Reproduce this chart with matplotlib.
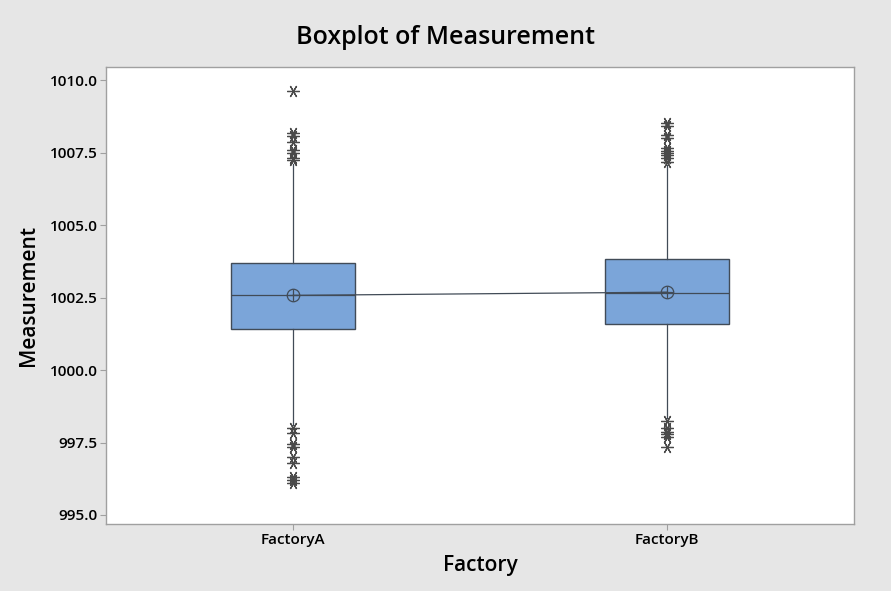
import numpy as np
import matplotlib.pyplot as plt

# summary values
factories = ['FactoryA', 'FactoryB']
q1 = [1001.41, 1001.60]
median = [1002.60, 1002.66]
q3 = [1003.69, 1003.83]
mean = [1002.58, 1002.69]
whisker_low = [998.11, 998.35]
whisker_high = [1007.12, 1007.09]
outliers_a = [1009.65, 1008.19, 1008.07, 1007.89, 1007.61, 1007.51, 1007.32, 1007.24,
              997.99, 997.84, 997.44, 997.36, 997.01, 996.78, 996.32, 996.21, 996.11]
outliers_b = [1008.53, 1008.41, 1008.12, 1008.01, 1007.66, 1007.58, 1007.51, 1007.43,
              1007.32, 1007.20, 998.25, 997.99, 997.88, 997.79, 997.70, 997.36]
outliers = [outliers_a, outliers_b]

y_ticks = [995.0, 997.5, 1000.0, 1002.5, 1005.0, 1007.5, 1010.0]

plt.rcParams['font.family'] = ['Open Sans', 'DejaVu Sans']

edge = '#414b57'
face = '#7ba5d9'

fig = plt.figure(figsize=(8.91, 5.91), dpi=100, facecolor='#e6e6e6')
ax = fig.add_axes([0.119, 0.113, 0.840, 0.774])
ax.set_facecolor('white')

stats = []
for i in range(len(factories)):
    stats.append(dict(label=factories[i], q1=q1[i], med=median[i], q3=q3[i],
                      whislo=whisker_low[i], whishi=whisker_high[i],
                      fliers=outliers[i], mean=mean[i]))

pos = np.arange(1, len(factories) + 1)
ax.bxp(stats, positions=pos, widths=0.332, patch_artist=True, showcaps=False,
       boxprops=dict(facecolor=face, edgecolor=edge, linewidth=1.0),
       medianprops=dict(color=edge, linewidth=0.9),
       whiskerprops=dict(color=edge, linewidth=0.9),
       flierprops=dict(marker=(6, 2, 90), markersize=9, markeredgecolor='#4a4a4a',
                       markeredgewidth=0.9, linestyle='none'))

# mean connect line and mean symbols
ax.plot(pos, mean, color=edge, linewidth=0.9, zorder=3)
ax.plot(pos, mean, 'o', markersize=9, markerfacecolor='none',
        markeredgecolor=edge, markeredgewidth=0.9, zorder=4)
ax.plot(pos, mean, '+', markersize=9, markeredgecolor=edge,
        markeredgewidth=0.9, zorder=4)

ax.set_xlim(0.5, 2.5)
ax.set_ylim(994.68, 1010.47)
ax.set_yticks(y_ticks)
ax.set_yticklabels([f'{t:.1f}' for t in y_ticks])
ax.set_xticks(pos)
ax.set_xticklabels(factories)

for s in ax.spines.values():
    s.set_color('#a0a0a0')
    s.set_linewidth(1.0)
ax.tick_params(axis='both', colors='#a0a0a0', labelcolor='black',
               labelsize=11, length=4, width=0.8, pad=2)
for lab in ax.get_xticklabels() + ax.get_yticklabels():
    lab.set_fontweight('semibold')

ax.set_xlabel('Factory', fontsize=15, fontweight='semibold', labelpad=6)
ax.set_ylabel('Measurement', fontsize=15, fontweight='semibold', labelpad=8)
fig.suptitle('Boxplot of Measurement', fontsize=18, fontweight='semibold',
             x=0.5, y=0.958)

fig.savefig('out.png', dpi=100, facecolor=fig.get_facecolor())
